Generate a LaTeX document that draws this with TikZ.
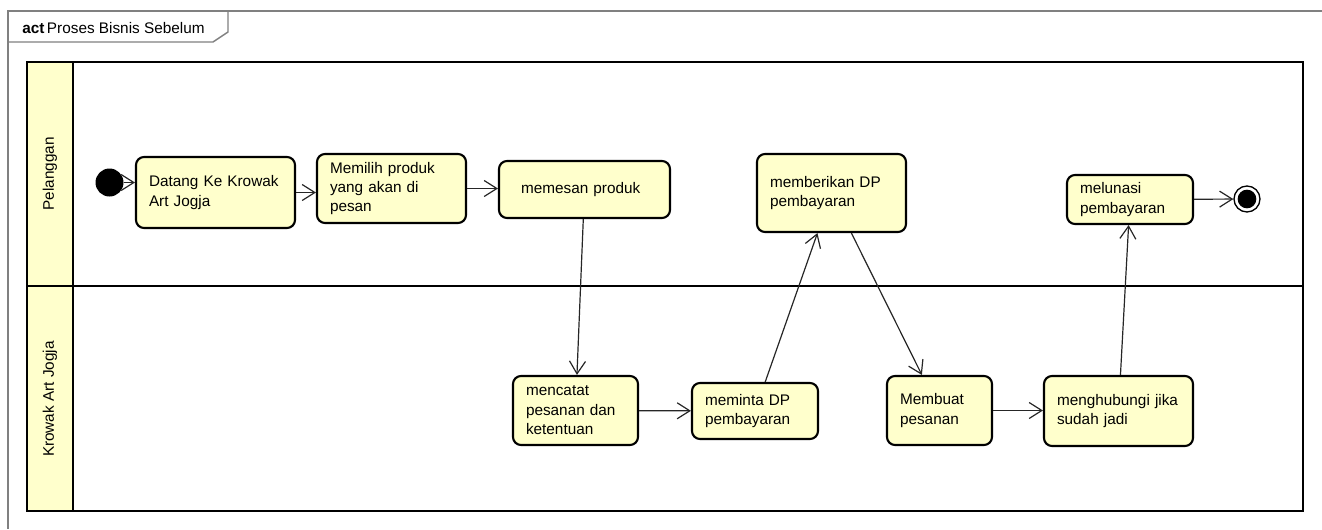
\documentclass[tikz,border=0pt]{standalone}
\usepackage{fontspec}
\setmainfont{Liberation Sans}
\usetikzlibrary{arrows.meta,positioning}
\tikzset{>={Straight Barb[length=9.5pt,width=12pt]}}
\definecolor{krem}{HTML}{FFFFCC}
\tikzset{
  teks/.style={font=\fontsize{11.5}{14.6}\selectfont},
  aksi/.style={teks, draw, line width=1.6pt, rounded corners=6pt, fill=krem, align=left, inner xsep=9.75pt, inner ysep=0pt},
  alur/.style={->, line width=0.9pt, black!85},
  bingkai/.style={line width=1.1pt, gray}
}

\begin{document}
\begin{tikzpicture}[x=0.75pt,y=-0.75pt]
\useasboundingbox (0,0) rectangle (1322,529);
\draw[bingkai] (1322,11) -- (8,11) -- (8,529);
\draw[bingkai] (8,42) -- (213,42) -- (228,32) -- (228,11);
\node[teks, anchor=base west, inner sep=0] (judul) at (22,33) {\textbf{act}\,Proses Bisnis Sebelum};
\fill[krem] (27,62) rectangle (73,511);
\draw[line width=2pt] (27,62) rectangle (1303,511);
\draw[line width=1.8pt] (73,62) -- (73,511) (27,286) -- (1303,286);
\node[teks, rotate=90] (pelanggan) at (50,174) {Pelanggan};
\node[teks, rotate=90] (krowak) at (50,399) {Krowak Art Jogja};

\node[circle, fill=black, minimum size=21pt, inner sep=0] (mulai) at (109.5,182.5) {};
\node[aksi, text width=99.75pt, minimum height=53.25pt] (datang) at (215.5,192.5) {Datang Ke Krowak\\Art Jogja};
\node[aksi, text width=92.25pt, minimum height=51.75pt] (memilih) at (391.5,188.5) {Memilih produk\\yang akan di\\pesan};
\node[aksi, text width=95.25pt, inner xsep=16.5pt, minimum height=42.75pt] (memesan) at (584.5,189.5) {memesan produk};
\node[aksi, text width=92.25pt, minimum height=58.5pt] (memberikan) at (831.5,193) {memberikan DP\\pembayaran};
\node[aksi, text width=75pt, minimum height=36.75pt] (melunasi) at (1130,199.5) {melunasi\\pembayaran};
\node[circle, draw, line width=1pt, fill=white, minimum size=19.5pt, inner sep=0,
  path picture={\fill[black] (path picture bounding box.center) circle (7pt);}] (selesai) at (1247,199) {};

\node[aksi, text width=74.25pt, minimum height=51.75pt] (mencatat) at (575.5,410.5) {mencatat\\pesanan dan\\ketentuan};
\node[aksi, text width=75pt, minimum height=42pt] (meminta) at (755,411) {meminta DP\\pembayaran};
\node[aksi, text width=59.25pt, minimum height=51.75pt] (membuat) at (939.5,410.5) {Membuat\\pesanan};
\node[aksi, text width=92.25pt, minimum height=52.5pt] (menghubungi) at (1118.5,411) {menghubungi jika\\sudah jadi};

\draw[alur] (mulai) -- (mulai -| datang.west);
\draw[alur] (datang.east) -- (datang.east -| memilih.west);
\draw[alur] (memilih.east) -- (memilih.east -| memesan.west);
\draw[alur] (memesan) -- (mencatat);
\draw[alur] (mencatat) -- (meminta);
\draw[alur] (meminta) -- (memberikan);
\draw[alur] (memberikan) -- (membuat);
\draw[alur] (membuat) -- (membuat -| menghubungi.west);
\draw[alur] (menghubungi) -- (melunasi);
\draw[alur] (melunasi) -- (selesai);
\end{tikzpicture}
\end{document}
